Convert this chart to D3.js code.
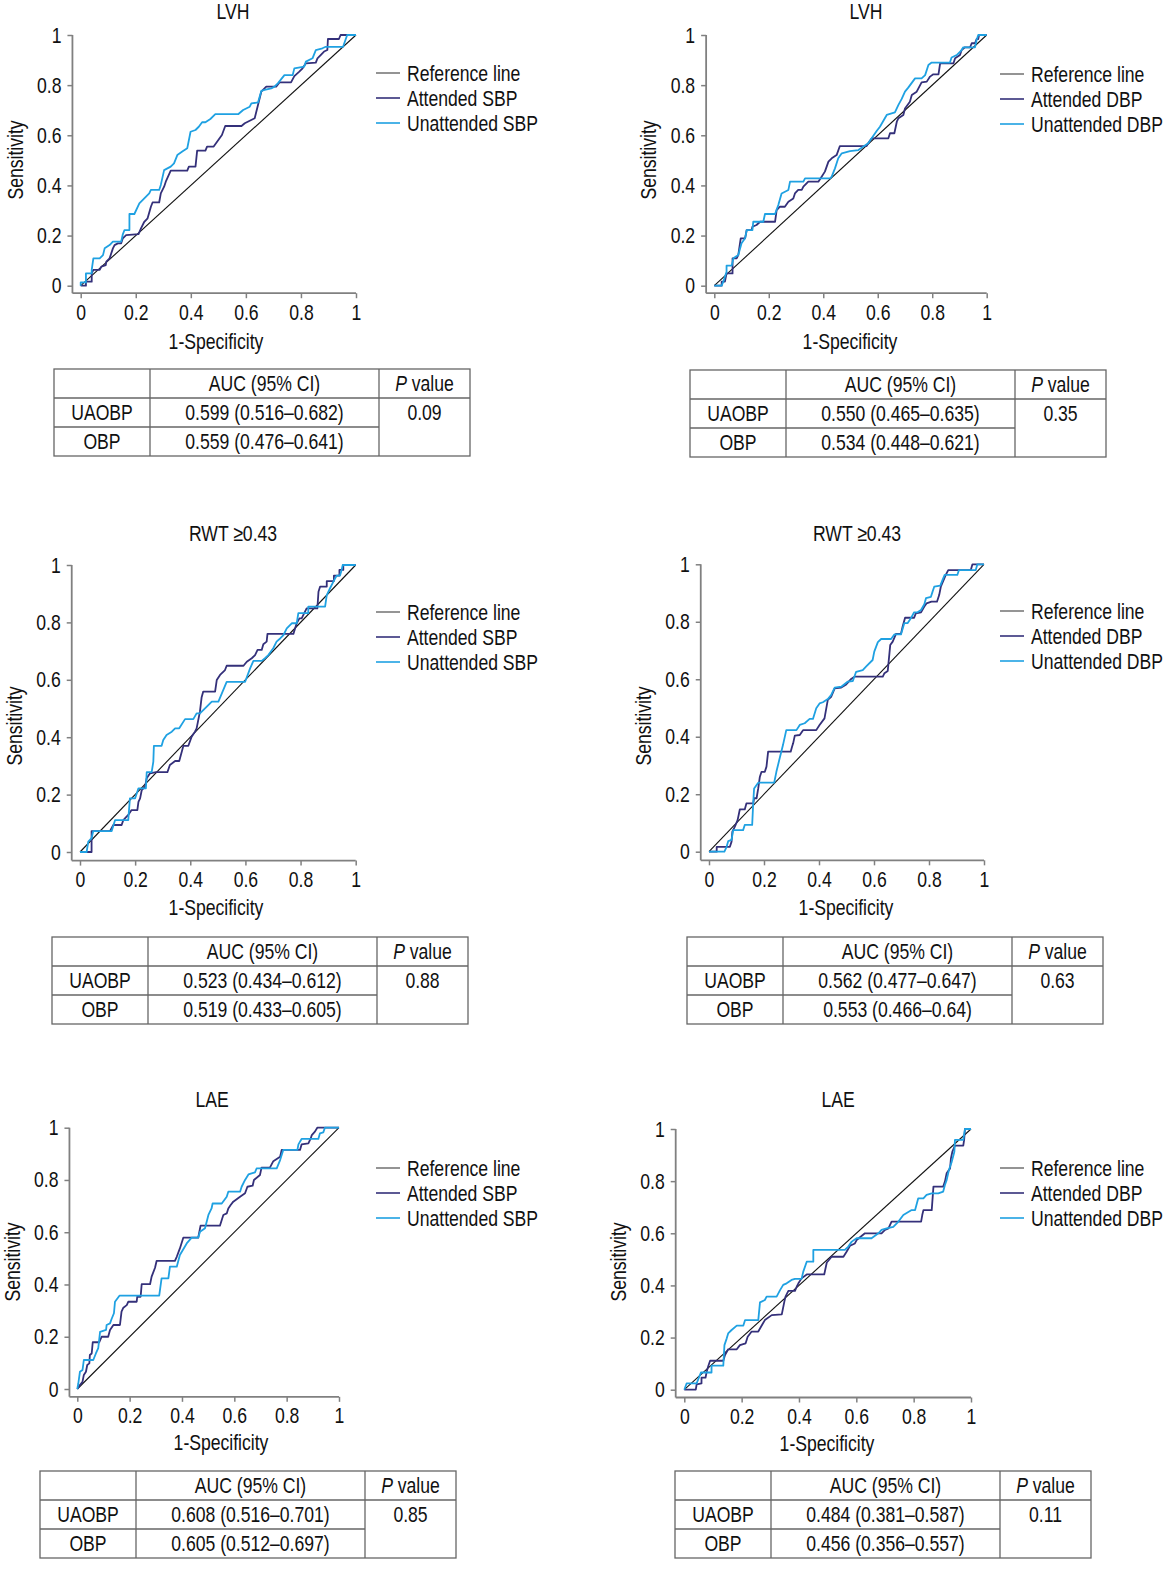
<!DOCTYPE html>
<html><head><meta charset="utf-8">
<script src="https://cdn.jsdelivr.net/npm/d3@7/dist/d3.min.js"></script>
<style>
body{margin:0;background:#fff;}
svg text{font-family:"Liberation Sans",Arial,sans-serif;fill:#111;}
</style></head><body>
<svg id="chart" width="1163" height="1569"></svg>
<script>
// ---------------- DATA ----------------
const panelTitles = ["LVH","LVH","RWT \u22650.43","RWT \u22650.43","LAE","LAE"];
const seriesNames = [["Reference line","Attended SBP","Unattended SBP"],["Reference line","Attended DBP","Unattended DBP"]];
const tickValues = [0,0.2,0.4,0.6,0.8,1];
const tickLabels = ["0","0.2","0.4","0.6","0.8","1"];
const xLabel = "1-Specificity";
const yLabel = "Sensitivity";
const referenceLine = [[0,0],[1,1]];

const lvhSbpAttended = [[0,0],[0.019,0],[0.019,0.016],[0.040,0.016],[0.040,0.049],[0.046,0.063],[0.069,0.063],[0.075,0.076],[0.091,0.082],[0.093,0.096],[0.105,0.109],[0.117,0.149],[0.123,0.162],[0.135,0.169],[0.147,0.169],[0.153,0.189],[0.165,0.202],[0.210,0.206],[0.219,0.229],[0.231,0.255],[0.243,0.269],[0.255,0.315],[0.261,0.332],[0.285,0.332],[0.291,0.368],[0.303,0.395],[0.309,0.415],[0.327,0.459],[0.387,0.459],[0.393,0.475],[0.417,0.475],[0.423,0.539],[0.453,0.539],[0.459,0.555],[0.483,0.555],[0.513,0.601],[0.525,0.637],[0.584,0.637],[0.596,0.648],[0.632,0.668],[0.644,0.721],[0.656,0.774],[0.674,0.794],[0.710,0.794],[0.722,0.811],[0.764,0.811],[0.776,0.836],[0.794,0.854],[0.806,0.867],[0.818,0.887],[0.854,0.890],[0.860,0.907],[0.884,0.934],[0.896,0.940],[0.898,0.984],[0.938,0.984],[0.944,1],[1,1]];
const lvhSbpUnattended = [[0,0],[0,0.013],[0.019,0.013],[0.019,0.049],[0.040,0.049],[0.040,0.063],[0.046,0.109],[0.069,0.109],[0.081,0.122],[0.087,0.149],[0.105,0.162],[0.117,0.176],[0.147,0.176],[0.153,0.205],[0.159,0.222],[0.177,0.222],[0.177,0.286],[0.195,0.286],[0.213,0.328],[0.231,0.348],[0.249,0.368],[0.255,0.382],[0.285,0.382],[0.291,0.402],[0.303,0.461],[0.327,0.475],[0.339,0.488],[0.351,0.521],[0.369,0.535],[0.387,0.548],[0.399,0.614],[0.417,0.621],[0.429,0.634],[0.441,0.652],[0.453,0.652],[0.471,0.665],[0.489,0.684],[0.572,0.684],[0.590,0.701],[0.614,0.714],[0.620,0.727],[0.644,0.731],[0.656,0.777],[0.668,0.781],[0.692,0.787],[0.704,0.794],[0.716,0.807],[0.740,0.840],[0.770,0.840],[0.776,0.867],[0.812,0.874],[0.818,0.894],[0.842,0.907],[0.854,0.940],[0.878,0.947],[0.890,0.953],[0.953,0.953],[0.968,1],[1,1]];

const lvhDbpAttended = [[0,0],[0.027,0],[0.027,0.016],[0.039,0.016],[0.045,0.049],[0.067,0.049],[0.067,0.109],[0.082,0.109],[0.088,0.122],[0.097,0.189],[0.113,0.189],[0.119,0.222],[0.137,0.222],[0.140,0.235],[0.155,0.242],[0.168,0.255],[0.223,0.255],[0.229,0.302],[0.241,0.315],[0.259,0.315],[0.272,0.335],[0.290,0.348],[0.296,0.368],[0.308,0.382],[0.321,0.382],[0.327,0.395],[0.345,0.415],[0.382,0.415],[0.394,0.435],[0.406,0.455],[0.419,0.495],[0.431,0.508],[0.449,0.521],[0.461,0.557],[0.559,0.557],[0.565,0.568],[0.578,0.588],[0.639,0.588],[0.645,0.608],[0.661,0.608],[0.670,0.654],[0.676,0.668],[0.694,0.681],[0.700,0.707],[0.718,0.734],[0.725,0.761],[0.743,0.774],[0.761,0.811],[0.780,0.814],[0.792,0.834],[0.804,0.843],[0.823,0.843],[0.829,0.887],[0.878,0.887],[0.884,0.907],[0.902,0.920],[0.908,0.940],[0.920,0.951],[0.939,0.951],[0.945,0.967],[0.957,0.967],[0.963,0.984],[0.969,0.984],[0.972,1],[1,1]];
const lvhDbpUnattended = [[0,0],[0.027,0],[0.033,0.016],[0.045,0.056],[0.045,0.080],[0.064,0.080],[0.070,0.109],[0.088,0.122],[0.100,0.169],[0.113,0.189],[0.119,0.222],[0.140,0.222],[0.143,0.255],[0.180,0.255],[0.186,0.286],[0.223,0.286],[0.235,0.322],[0.247,0.368],[0.272,0.382],[0.278,0.415],[0.327,0.415],[0.333,0.428],[0.425,0.428],[0.431,0.435],[0.443,0.468],[0.455,0.508],[0.468,0.528],[0.498,0.537],[0.529,0.541],[0.565,0.568],[0.596,0.617],[0.608,0.634],[0.633,0.681],[0.663,0.691],[0.676,0.721],[0.688,0.745],[0.700,0.774],[0.712,0.790],[0.737,0.827],[0.761,0.827],[0.774,0.840],[0.786,0.880],[0.798,0.890],[0.865,0.890],[0.871,0.910],[0.890,0.920],[0.908,0.940],[0.914,0.951],[0.957,0.951],[0.963,0.980],[0.969,1],[1,1]];

const rwtSbpAttended = [[0,0],[0.042,0],[0.042,0.073],[0.109,0.073],[0.121,0.094],[0.151,0.094],[0.157,0.111],[0.175,0.129],[0.187,0.146],[0.208,0.146],[0.212,0.175],[0.218,0.187],[0.224,0.216],[0.236,0.228],[0.242,0.257],[0.254,0.274],[0.276,0.278],[0.317,0.278],[0.326,0.303],[0.345,0.317],[0.360,0.317],[0.375,0.370],[0.393,0.370],[0.405,0.402],[0.417,0.419],[0.423,0.431],[0.435,0.489],[0.441,0.538],[0.447,0.559],[0.490,0.559],[0.496,0.599],[0.508,0.617],[0.526,0.634],[0.532,0.649],[0.593,0.649],[0.605,0.663],[0.623,0.675],[0.635,0.686],[0.644,0.704],[0.659,0.704],[0.665,0.724],[0.677,0.733],[0.680,0.760],[0.774,0.760],[0.786,0.797],[0.796,0.814],[0.804,0.814],[0.822,0.849],[0.861,0.849],[0.865,0.907],[0.871,0.925],[0.895,0.925],[0.895,0.944],[0.921,0.944],[0.921,0.963],[0.941,0.963],[0.941,0.983],[0.955,0.983],[0.955,1],[1,1]];
const rwtSbpUnattended = [[0,0],[0.024,0],[0.030,0.036],[0.042,0.048],[0.048,0.073],[0.115,0.073],[0.127,0.111],[0.175,0.111],[0.181,0.187],[0.200,0.187],[0.212,0.222],[0.239,0.222],[0.242,0.278],[0.260,0.278],[0.266,0.315],[0.268,0.370],[0.296,0.370],[0.302,0.390],[0.314,0.408],[0.333,0.419],[0.345,0.431],[0.360,0.431],[0.381,0.463],[0.411,0.463],[0.423,0.483],[0.435,0.483],[0.459,0.506],[0.478,0.524],[0.502,0.524],[0.532,0.593],[0.599,0.593],[0.617,0.640],[0.629,0.666],[0.659,0.666],[0.671,0.675],[0.683,0.686],[0.701,0.710],[0.713,0.733],[0.726,0.744],[0.738,0.756],[0.750,0.779],[0.768,0.797],[0.786,0.797],[0.792,0.832],[0.828,0.832],[0.828,0.855],[0.889,0.855],[0.895,0.895],[0.907,0.919],[0.919,0.942],[0.931,0.963],[0.943,0.963],[0.949,0.983],[0.953,1],[1,1]];

const rwtDbpAttended = [[0,0],[0.028,0],[0.028,0.017],[0.076,0.017],[0.082,0.035],[0.085,0.070],[0.094,0.087],[0.104,0.110],[0.112,0.147],[0.130,0.147],[0.136,0.168],[0.161,0.168],[0.164,0.186],[0.173,0.186],[0.179,0.220],[0.185,0.261],[0.191,0.278],[0.203,0.278],[0.209,0.296],[0.215,0.348],[0.297,0.348],[0.302,0.365],[0.306,0.377],[0.312,0.404],[0.330,0.406],[0.342,0.423],[0.390,0.423],[0.402,0.441],[0.420,0.464],[0.432,0.528],[0.444,0.539],[0.457,0.568],[0.481,0.571],[0.499,0.582],[0.517,0.601],[0.529,0.609],[0.632,0.609],[0.638,0.621],[0.650,0.629],[0.659,0.719],[0.668,0.731],[0.680,0.758],[0.698,0.758],[0.704,0.783],[0.713,0.814],[0.746,0.814],[0.752,0.829],[0.771,0.833],[0.783,0.853],[0.791,0.864],[0.809,0.870],[0.829,0.870],[0.837,0.893],[0.843,0.922],[0.861,0.963],[0.870,0.980],[0.952,0.980],[0.958,1],[1,1]];
const rwtDbpUnattended = [[0,0],[0.056,0],[0.064,0.017],[0.070,0.037],[0.082,0.041],[0.088,0.075],[0.124,0.075],[0.130,0.093],[0.157,0.093],[0.161,0.174],[0.164,0.220],[0.179,0.240],[0.237,0.240],[0.245,0.278],[0.257,0.325],[0.269,0.371],[0.281,0.423],[0.318,0.423],[0.330,0.441],[0.348,0.447],[0.366,0.462],[0.378,0.462],[0.390,0.499],[0.402,0.516],[0.414,0.520],[0.432,0.531],[0.444,0.545],[0.457,0.571],[0.481,0.574],[0.505,0.592],[0.523,0.594],[0.535,0.626],[0.559,0.632],[0.571,0.644],[0.595,0.667],[0.601,0.696],[0.614,0.729],[0.626,0.740],[0.662,0.740],[0.674,0.756],[0.698,0.756],[0.704,0.775],[0.710,0.795],[0.722,0.795],[0.734,0.812],[0.746,0.833],[0.758,0.833],[0.771,0.841],[0.783,0.861],[0.789,0.882],[0.807,0.887],[0.813,0.905],[0.819,0.922],[0.841,0.926],[0.849,0.945],[0.857,0.963],[0.903,0.963],[0.909,0.980],[0.970,0.980],[0.976,1],[1,1]];

const laeSbpAttended = [[0,0],[0.010,0.015],[0.020,0.028],[0.025,0.054],[0.033,0.066],[0.038,0.092],[0.046,0.098],[0.048,0.130],[0.055,0.136],[0.059,0.179],[0.084,0.179],[0.093,0.200],[0.118,0.200],[0.125,0.226],[0.138,0.245],[0.163,0.245],[0.169,0.296],[0.176,0.311],[0.189,0.321],[0.195,0.334],[0.227,0.334],[0.229,0.353],[0.242,0.353],[0.246,0.401],[0.278,0.401],[0.284,0.430],[0.297,0.464],[0.303,0.490],[0.373,0.490],[0.380,0.506],[0.392,0.538],[0.405,0.579],[0.462,0.579],[0.471,0.625],[0.545,0.625],[0.558,0.666],[0.571,0.672],[0.577,0.691],[0.586,0.704],[0.596,0.717],[0.622,0.736],[0.641,0.749],[0.650,0.774],[0.670,0.778],[0.675,0.800],[0.698,0.819],[0.704,0.847],[0.736,0.847],[0.749,0.872],[0.775,0.889],[0.781,0.915],[0.851,0.915],[0.857,0.936],[0.883,0.940],[0.892,0.959],[0.896,0.972],[0.908,0.985],[0.917,1],[1,1]];
const laeSbpUnattended = [[0,0],[0.004,0.022],[0.010,0.066],[0.020,0.073],[0.025,0.111],[0.061,0.111],[0.071,0.136],[0.080,0.156],[0.087,0.219],[0.110,0.226],[0.112,0.245],[0.125,0.251],[0.131,0.268],[0.140,0.290],[0.144,0.334],[0.161,0.357],[0.313,0.357],[0.322,0.423],[0.348,0.423],[0.354,0.468],[0.380,0.468],[0.392,0.513],[0.418,0.557],[0.437,0.579],[0.462,0.579],[0.469,0.602],[0.488,0.615],[0.501,0.666],[0.513,0.691],[0.517,0.710],[0.552,0.710],[0.571,0.736],[0.577,0.755],[0.622,0.755],[0.628,0.774],[0.641,0.800],[0.654,0.821],[0.666,0.825],[0.679,0.829],[0.685,0.844],[0.762,0.844],[0.775,0.876],[0.787,0.915],[0.841,0.915],[0.845,0.936],[0.857,0.957],[0.921,0.957],[0.927,0.978],[0.940,0.982],[0.946,1],[1,1]];

const laeDbpAttended = [[0,0],[0.040,0],[0.043,0.020],[0.060,0.024],[0.060,0.046],[0.074,0.046],[0.078,0.069],[0.084,0.092],[0.090,0.111],[0.136,0.111],[0.142,0.133],[0.153,0.155],[0.183,0.155],[0.194,0.171],[0.214,0.178],[0.221,0.203],[0.235,0.223],[0.258,0.223],[0.270,0.246],[0.281,0.267],[0.305,0.286],[0.340,0.289],[0.349,0.338],[0.353,0.357],[0.363,0.379],[0.386,0.379],[0.392,0.395],[0.398,0.408],[0.409,0.427],[0.427,0.442],[0.488,0.442],[0.497,0.488],[0.514,0.510],[0.555,0.510],[0.566,0.529],[0.578,0.552],[0.595,0.561],[0.601,0.574],[0.630,0.600],[0.688,0.600],[0.700,0.613],[0.712,0.619],[0.723,0.645],[0.826,0.645],[0.830,0.670],[0.834,0.689],[0.863,0.689],[0.869,0.779],[0.903,0.779],[0.909,0.798],[0.915,0.830],[0.927,0.849],[0.930,0.887],[0.935,0.913],[0.944,0.936],[0.973,0.936],[0.976,0.958],[0.979,1],[1,1]];
const laeDbpUnattended = [[0,0],[0.008,0.024],[0.043,0.024],[0.058,0.066],[0.095,0.066],[0.095,0.092],[0.136,0.092],[0.140,0.171],[0.148,0.197],[0.153,0.216],[0.165,0.229],[0.183,0.246],[0.206,0.246],[0.212,0.267],[0.258,0.267],[0.264,0.335],[0.281,0.344],[0.287,0.357],[0.322,0.357],[0.334,0.382],[0.345,0.402],[0.357,0.408],[0.374,0.421],[0.386,0.425],[0.409,0.425],[0.415,0.453],[0.427,0.491],[0.450,0.491],[0.450,0.536],[0.560,0.536],[0.572,0.549],[0.584,0.568],[0.601,0.581],[0.653,0.581],[0.677,0.600],[0.688,0.613],[0.706,0.619],[0.729,0.625],[0.747,0.645],[0.764,0.670],[0.793,0.689],[0.805,0.689],[0.816,0.734],[0.834,0.734],[0.845,0.747],[0.863,0.753],[0.886,0.753],[0.903,0.760],[0.909,0.785],[0.915,0.804],[0.923,0.843],[0.933,0.875],[0.942,0.913],[0.944,0.958],[0.973,0.958],[0.979,1],[1,1]];

const attendedSeries = [lvhSbpAttended, lvhDbpAttended, rwtSbpAttended, rwtDbpAttended, laeSbpAttended, laeDbpAttended];
const unattendedSeries = [lvhSbpUnattended, lvhDbpUnattended, rwtSbpUnattended, rwtDbpUnattended, laeSbpUnattended, laeDbpUnattended];

const tableHeader = ["", "AUC (95% CI)", "value"];
const tableRowLabels = ["UAOBP", "OBP"];
const aucUAOBP = ["0.599 (0.516\u20130.682)","0.550 (0.465\u20130.635)","0.523 (0.434\u20130.612)","0.562 (0.477\u20130.647)","0.608 (0.516\u20130.701)","0.484 (0.381\u20130.587)"];
const aucOBP = ["0.559 (0.476\u20130.641)","0.534 (0.448\u20130.621)","0.519 (0.433\u20130.605)","0.553 (0.466\u20130.64)","0.605 (0.512\u20130.697)","0.456 (0.356\u20130.557)"];
const pValues = ["0.09","0.35","0.88","0.63","0.85","0.11"];

// ---------------- LAYOUT ----------------
const layout = [
  {x0:80.7, x1:356, y0:285.7, y1:35,  title:[233,11],  ylab:[15,160],  xlab:[216,341],  leg:[376,73],   tab:[54,369]},
  {x0:714.3,x1:986.7,y0:285.7,y1:35, title:[866,11],  ylab:[648,160], xlab:[850,341],  leg:[1000,74],  tab:[690,370]},
  {x0:80,   x1:355.7,y0:852,  y1:565, title:[233,533], ylab:[14,726],  xlab:[216,907],  leg:[376,612],  tab:[52,937]},
  {x0:709,  x1:984,  y0:851.7,y1:564.3,title:[857,533],ylab:[643,726], xlab:[846,907],  leg:[1000,611], tab:[687,937]},
  {x0:77.3, x1:339,  y0:1389, y1:1127.7,title:[212,1099],ylab:[12,1262],xlab:[221,1442],leg:[376,1168], tab:[40,1471]},
  {x0:684.3,x1:971,  y0:1389.7,y1:1129,title:[838,1099],ylab:[618,1262],xlab:[827,1443],leg:[1000,1168],tab:[675,1471]}
];
const colWidths = [96, 229, 91];
const rowH = 29;
const colors = {ref:"#111", refLeg:"#7a7a7a", att:"#34307a", unatt:"#1fa1e2", axis:"#808080", grid:"#666"};
const FS = 22, SX = 0.8;

const svg = d3.select("#chart");

// condensed text helper (horizontal compression of Liberation Sans)
function ctext(g, x, y, str, anchor, rot) {
  const t = g.append("text")
    .attr("transform", `translate(${x},${y})${rot ? " rotate(" + rot + ")" : ""} scale(${SX},1)`)
    .attr("text-anchor", anchor || "middle").attr("dominant-baseline", "central")
    .attr("font-size", FS);
  if (str !== null) t.text(str);
  return t;
}

layout.forEach((L, i) => {
  const x = d3.scaleLinear().domain([0,1]).range([L.x0, L.x1]);
  const y = d3.scaleLinear().domain([0,1]).range([L.y0, L.y1]);
  const g = svg.append("g");
  const axY = x(-0.03), axX = y(-0.03);

  // axes
  const xAxis = d3.axisBottom(x).tickValues(tickValues).tickFormat((d,k)=>tickLabels[k]).tickSizeOuter(0).tickSize(5).tickPadding(6);
  const gx = g.append("g").attr("transform",`translate(0,${axX})`).call(xAxis);
  gx.select(".domain").remove();
  const yAxis = d3.axisLeft(y).tickValues(tickValues).tickFormat((d,k)=>tickLabels[k]).tickSizeOuter(0).tickSize(5).tickPadding(6);
  const gy = g.append("g").attr("transform",`translate(${axY},0)`).call(yAxis);
  gy.select(".domain").remove();
  [gx,gy].forEach(a=>{
    a.attr("font-family",null).attr("font-size",null);
    a.selectAll(".tick line").attr("stroke",colors.axis).attr("stroke-width",1.5);
    a.selectAll(".tick text").attr("font-size",FS).attr("fill","#111")
      .attr("x", function(){ return (+d3.select(this).attr("x")||0)/SX; })
      .attr("transform",`scale(${SX},1)`);
  });
  g.append("line").attr("x1",axY).attr("x2",x(1)).attr("y1",axX).attr("y2",axX).attr("stroke",colors.axis).attr("stroke-width",1.8);
  g.append("line").attr("x1",axY).attr("x2",axY).attr("y1",axX).attr("y2",y(1)).attr("stroke",colors.axis).attr("stroke-width",1.8);

  // curves
  const line = d3.line().x(d=>x(d[0])).y(d=>y(d[1]));
  g.append("path").datum(referenceLine).attr("d",line).attr("fill","none").attr("stroke",colors.ref).attr("stroke-width",1.1);
  g.append("path").datum(attendedSeries[i]).attr("d",line).attr("fill","none").attr("stroke",colors.att).attr("stroke-width",1.8).attr("stroke-linejoin","round");
  g.append("path").datum(unattendedSeries[i]).attr("d",line).attr("fill","none").attr("stroke",colors.unatt).attr("stroke-width",1.8).attr("stroke-linejoin","round");

  // title & labels
  ctext(g, L.title[0], L.title[1], panelTitles[i]);
  ctext(g, L.ylab[0], L.ylab[1], yLabel, "middle", -90);
  ctext(g, L.xlab[0], L.xlab[1], xLabel);

  // legend
  const names = seriesNames[i%2];
  const lc = [colors.refLeg, colors.att, colors.unatt];
  names.forEach((n,k)=>{
    const ly = L.leg[1] + k*25;
    g.append("line").attr("x1",L.leg[0]).attr("x2",L.leg[0]+24).attr("y1",ly).attr("y2",ly).attr("stroke",lc[k]).attr("stroke-width",1.6);
    ctext(g, L.leg[0]+31, ly, n, "start");
  });

  // table
  const tx = L.tab[0], ty = L.tab[1];
  const cx = [tx, tx+colWidths[0], tx+colWidths[0]+colWidths[1], tx+colWidths[0]+colWidths[1]+colWidths[2]];
  const ry = [ty, ty+rowH, ty+2*rowH, ty+3*rowH];
  const tg = g.append("g").attr("stroke",colors.grid).attr("stroke-width",1.3);
  tg.append("rect").attr("x",cx[0]).attr("y",ry[0]).attr("width",cx[3]-cx[0]).attr("height",ry[3]-ry[0]).attr("fill","none");
  tg.append("line").attr("x1",cx[1]).attr("x2",cx[1]).attr("y1",ry[0]).attr("y2",ry[3]);
  tg.append("line").attr("x1",cx[2]).attr("x2",cx[2]).attr("y1",ry[0]).attr("y2",ry[3]);
  tg.append("line").attr("x1",cx[0]).attr("x2",cx[3]).attr("y1",ry[1]).attr("y2",ry[1]);
  tg.append("line").attr("x1",cx[0]).attr("x2",cx[2]).attr("y1",ry[2]).attr("y2",ry[2]);
  const mid = k => (cx[k]+cx[k+1])/2;
  const rmid = r => (ry[r]+ry[r+1])/2;
  ctext(g, mid(1), rmid(0), tableHeader[1]);
  const ph = ctext(g, mid(2), rmid(0), null);
  ph.append("tspan").attr("font-style","italic").text("P");
  ph.append("tspan").text(" " + tableHeader[2]);
  ctext(g, mid(0), rmid(1), tableRowLabels[0]);
  ctext(g, mid(0), rmid(2), tableRowLabels[1]);
  ctext(g, mid(1), rmid(1), aucUAOBP[i]);
  ctext(g, mid(1), rmid(2), aucOBP[i]);
  ctext(g, mid(2), rmid(1), pValues[i]);
});
</script>
</body></html>
